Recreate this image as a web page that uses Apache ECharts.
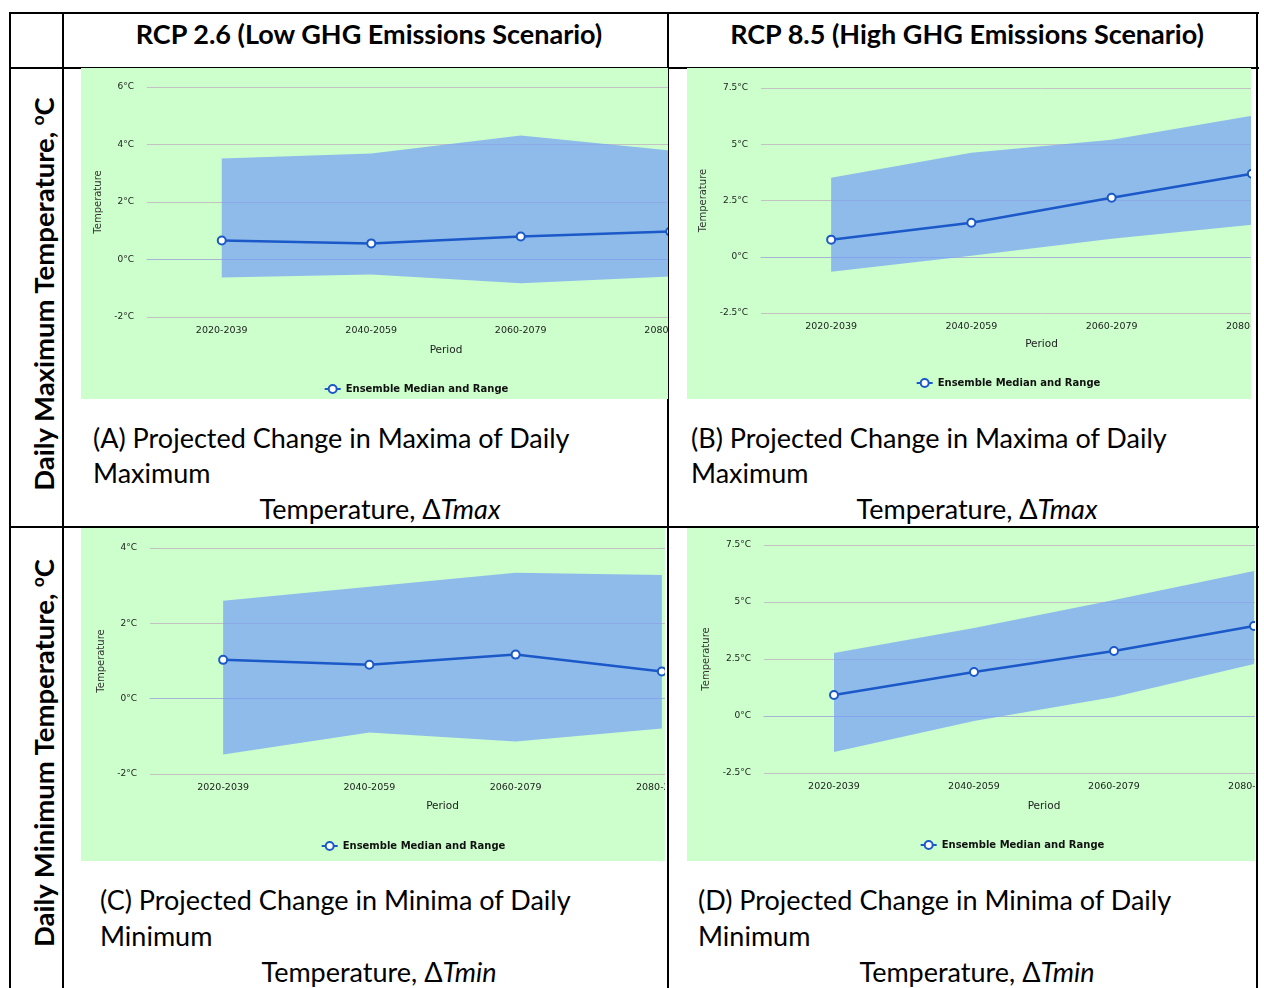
<!DOCTYPE html>
<html><head><meta charset="utf-8">
<script src="https://cdn.jsdelivr.net/npm/echarts@6/dist/echarts.min.js"></script>
<style>
html,body{margin:0;padding:0;}
body{width:1264px;height:988px;position:relative;background:#fff;overflow:hidden;font-family:Lato,"Open Sans",sans-serif;color:#000;}
.hl{position:absolute;background:#000;height:2px;}
.vl{position:absolute;background:#000;width:2px;}
.clip{position:absolute;overflow:hidden;background:#ccffcc;}
.chart{position:absolute;left:0;top:0;}
.hdr{position:absolute;font-weight:bold;font-size:27px;line-height:32px;white-space:nowrap;transform:translate(-50%,-50%);}
.row{position:absolute;font-weight:bold;font-size:27.5px;line-height:32px;white-space:nowrap;transform:translate(-50%,-50%) rotate(-90deg);}
.row sup{font-size:17px;vertical-align:10px;line-height:0;}
.cap{position:absolute;font-size:27px;line-height:32px;white-space:nowrap;transform:translateY(-50%);}
.capc{position:absolute;font-size:27px;line-height:32px;white-space:nowrap;transform:translate(-50%,-50%);}
</style></head>
<body>
<!-- table lines -->
<div class="hl" style="left:9px;top:12px;width:1250px"></div>
<div class="hl" style="left:9px;top:67px;width:1250px"></div>
<div class="hl" style="left:9px;top:526px;width:1250px"></div>
<div class="vl" style="left:9px;top:12px;height:976px"></div>
<div class="vl" style="left:62px;top:12px;height:976px"></div>
<div class="vl" style="left:667px;top:12px;height:976px"></div>
<div class="vl" style="left:1256px;top:12px;height:976px"></div>

<div class="hdr" style="left:369px;top:34px">RCP 2.6 (Low GHG Emissions Scenario)</div>
<div class="hdr" style="left:967px;top:34px">RCP 8.5 (High GHG Emissions Scenario)</div>
<div class="row" style="left:44px;top:294px">Daily Maximum Temperature, <sup>o</sup>C</div>
<div class="row" style="left:44px;top:753px">Daily Minimum Temperature, <sup>o</sup>C</div>

<div class="clip" style="left:81px;top:68px;width:587px;height:331px"><div id="cA" class="chart" style="width:670px;height:331px"></div></div>
<div class="clip" style="left:687px;top:68px;width:564px;height:331px"><div id="cB" class="chart" style="width:642px;height:331px"></div></div>
<div class="clip" style="left:81px;top:528px;width:584px;height:333px"><div id="cC" class="chart" style="width:664px;height:333px"></div></div>
<div class="clip" style="left:687px;top:528px;width:568px;height:333px"><div id="cD" class="chart" style="width:650px;height:333px"></div></div>

<div class="cap" style="left:93px;top:438px">(A) Projected Change in Maxima of Daily</div>
<div class="cap" style="left:93px;top:473px">Maximum</div>
<div class="capc" style="left:380px;top:509px">Temperature, Δ<i>Tmax</i></div>

<div class="cap" style="left:691px;top:438px">(B) Projected Change in Maxima of Daily</div>
<div class="cap" style="left:691px;top:473px">Maximum</div>
<div class="capc" style="left:977px;top:509px">Temperature, Δ<i>Tmax</i></div>

<div class="cap" style="left:100px;top:900px">(C) Projected Change in Minima of Daily</div>
<div class="cap" style="left:100px;top:936px">Minimum</div>
<div class="capc" style="left:379px;top:972px">Temperature, Δ<i>Tmin</i></div>

<div class="cap" style="left:698px;top:900px">(D) Projected Change in Minima of Daily</div>
<div class="cap" style="left:698px;top:936px">Minimum</div>
<div class="capc" style="left:977px;top:972px">Temperature, Δ<i>Tmin</i></div>

<script>
// ---- data ----
const periods = ['2020-2039', '2040-2059', '2060-2079', '2080-2099'];
const seriesName = 'Ensemble Median and Range';

// (A) RCP 2.6, Tmax
const aMedian = [0.66, 0.56, 0.80, 0.97];
const aLow    = [-0.63, -0.52, -0.83, -0.59];
const aHigh   = [3.51, 3.69, 4.31, 3.79];
// (B) RCP 8.5, Tmax
const bMedian = [0.76, 1.51, 2.62, 3.69];
const bLow    = [-0.67, 0.04, 0.80, 1.42];
const bHigh   = [3.51, 4.62, 5.20, 6.27];
// (C) RCP 2.6, Tmin
const cMedian = [1.03, 0.90, 1.17, 0.72];
const cLow    = [-1.48, -0.90, -1.14, -0.79];
const cHigh   = [2.60, 2.97, 3.34, 3.28];
// (D) RCP 8.5, Tmin
const dMedian = [0.92, 1.93, 2.85, 3.95];
const dLow    = [-1.58, -0.22, 0.83, 2.28];
const dHigh   = [2.76, 3.86, 5.09, 6.36];

// y-axis ticks
const aTicks = [-2, 0, 2, 4, 6];
const bTicks = [-2.5, 0, 2.5, 5, 7.5];
const cTicks = [-2, 0, 2, 4];
const dTicks = [-2.5, 0, 2.5, 5, 7.5];

const LINE = '#1b58c8';
const BAND = 'rgba(117,158,248,0.7)';
const FONT = '"DejaVu Sans", Verdana, sans-serif';

function panel(id, median, low, high, ticks, L) {
  const chart = echarts.init(document.getElementById(id), null, {renderer: 'canvas'});
  chart.setOption({
    animation: false,
    backgroundColor: '#ccffcc',
    grid: {left: L.gl, right: L.gr, top: L.gt, bottom: L.gb, containLabel: false},
    legend: {
      data: [seriesName], left: 'center', top: L.lt,
      itemWidth: 16, itemHeight: 10, itemGap: 6,
      textStyle: {fontFamily: FONT, fontWeight: 'bold', fontSize: 10, color: '#111'}
    },
    xAxis: {
      type: 'category', data: periods, boundaryGap: true,
      name: 'Period', nameLocation: 'middle', nameGap: L.xng,
      nameTextStyle: {fontFamily: FONT, fontSize: 10.5, color: '#222'},
      axisTick: {show: false},
      axisLine: {lineStyle: {color: '#a8b4d4', width: 1}},
      axisLabel: {interval: 0, margin: 9, fontFamily: FONT, fontSize: 9.5, color: '#222'}
    },
    yAxis: {
      type: 'value', min: ticks[0], max: ticks[ticks.length - 1], interval: ticks[1] - ticks[0],
      name: 'Temperature', nameLocation: 'middle', nameGap: L.yng, nameRotate: 90,
      nameTextStyle: {fontFamily: FONT, fontSize: 10, color: '#333'},
      axisLine: {show: false}, axisTick: {show: false},
      splitLine: {lineStyle: {color: '#c2c2c2', width: 1}},
      axisLabel: {margin: 13, fontFamily: FONT, fontSize: 9, color: '#222', formatter: '{value}°C'}
    },
    series: [
      {type: 'line', name: 'low', stack: 'band', stackStrategy: 'all', data: low,
       symbol: 'none', lineStyle: {opacity: 0}, silent: true},
      {type: 'line', name: 'range', stack: 'band', stackStrategy: 'all',
       data: high.map((h, i) => +(h - low[i]).toFixed(3)),
       symbol: 'none', lineStyle: {opacity: 0}, areaStyle: {color: BAND, opacity: 1}, silent: true},
      {type: 'line', name: seriesName, data: median, z: 5,
       symbol: 'emptyCircle', symbolSize: 8,
       itemStyle: {color: LINE, borderWidth: 1.6},
       lineStyle: {color: LINE, width: 2.5}}
    ]
  });
}

panel('cA', aMedian, aLow, aHigh, aTicks, {gl: 66, gr: 6, gt: 19, gb: 82, lt: 311, xng: 28, yng: 44});
panel('cB', bMedian, bLow, bHigh, bTicks, {gl: 74, gr: 7, gt: 20, gb: 86, lt: 305, xng: 26, yng: 52});
panel('cC', cMedian, cLow, cHigh, cTicks, {gl: 69, gr: 10, gt: 20, gb: 87, lt: 308, xng: 27, yng: 44});
panel('cD', dMedian, dLow, dHigh, dTicks, {gl: 77, gr: 13, gt: 17, gb: 88, lt: 307, xng: 28, yng: 51});
</script>
</body></html>
